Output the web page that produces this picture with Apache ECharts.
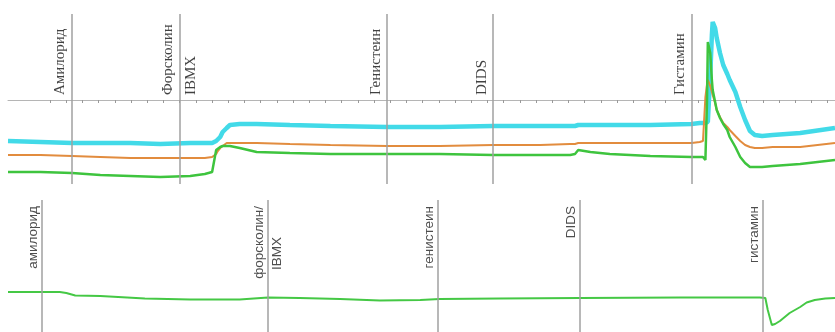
<!DOCTYPE html>
<html><head><meta charset="utf-8">
<script src="https://cdn.jsdelivr.net/npm/echarts@6/dist/echarts.min.js"></script>
<style>html,body{margin:0;padding:0;background:#fff;}#c{width:835px;height:332px;}</style>
</head><body><div id="c"></div>
<script>
// ---- data (time in s, signal in arbitrary units) ----
const timeTop = [0,40,79,114,151,188,225,243,252,254,257,259,262,265,270,274,286,307,348,398,468,533,599,657,694,700,704,719,743,793,844,854,858,861,863,864,867,869,870,873,875,879,883,888,891,898,904,910,916,922,931,944,978,1021];
const cyan   = [-41,-42,-43,-43,-43,-44,-43,-43,-43,-42,-41,-39,-37,-32,-28,-25,-24,-24,-25,-26,-27,-27,-26,-26,-26,-26,-25,-25,-25,-25,-24,-23,-23,-23,-23,-22,25,65,78,72,62,47,35,26,20,8,-7,-20,-31,-35,-36,-35,-33,-28];
const orange = [-55,-55,-56,-57,-58,-58,-58,-58,-57,-56,-54,-51,-48,-46,-43,-43,-43,-43,-44,-45,-46,-46,-45,-45,-44,-44,-43,-43,-43,-43,-43,-42,-41,3,16,20,14,8,5,-3,-10,-17,-23,-27,-30,-36,-41,-45,-47,-48,-48,-47,-47,-43];
const green  = [-72,-72,-73,-75,-76,-77,-76,-74,-72,-72,-50,-48,-47,-46,-46,-46,-48,-52,-53,-54,-54,-54,-55,-55,-55,-54,-50,-52,-54,-56,-57,-57,-57,-60,0,58,47,20,10,-2,-10,-18,-24,-30,-37,-47,-57,-63,-67,-67,-67,-66,-64,-60];

const timeBottom = [0,40,64,72,83,114,169,225,286,321,360,410,459,509,533,607,706,830,928,935,938,943,947,953,965,978,986,996,1009,1021];
const bottomTrace = [0,0,0,-1,-3.5,-4,-6.5,-7.5,-7.5,-5.5,-6,-7,-8.5,-8,-7,-6.5,-6,-5.5,-5.5,-6,-18,-33,-32,-29,-21,-15,-10.5,-8,-6.5,-6];

const eventsTop = [79, 212, 468, 599, 844];
const labelsTopLeft = ['Амилорид', 'Форсколин', 'Генистеин', 'DIDS', 'Гистамин'];
const labelsTopRight = ['', 'IBMX', '', '', ''];

const eventsBottom = [42, 321, 531, 706, 932];
const labelsBottomLeft = ['амилорид', 'форсколин/', 'генистеин', 'DIDS', 'гистамин'];
const labelsBottomRight = ['', 'IBMX', '', '', ''];

const tickValues = [];
for (let v = 52; v <= 1021; v += 20) tickValues.push(v);

const X_MAX = 1021;
// ---- chart ----
const chart = echarts.init(document.getElementById('c'), null, {renderer: 'canvas'});
const pairs = (ts, vs) => ts.map((t, i) => [t, vs[i]]);
const vline = {color: '#a0a0a0', width: 1.5, type: 'solid'};

function labelSeries(xi, yi, events, names, yv, side, font) {
  const data = [];
  events.forEach((t, i) => { if (names[i]) data.push({value: [t, yv], name: names[i]}); });
  const left = side === 'left';
  return {
    type: 'scatter', xAxisIndex: xi, yAxisIndex: yi, symbolSize: 0, silent: true,
    itemStyle: {color: 'rgba(0,0,0,0)'}, z: 5, data: data,
    label: Object.assign({
      show: true, position: 'inside', rotate: 90, formatter: p => p.name,
      verticalAlign: left ? 'bottom' : 'top',
      padding: left ? [0, 0, font.gap, 0] : [font.gap, 0, 0, 0]
    }, font.style, {align: font.align[side]})
  };
}

const topFont = {gap: 4, align: {left: 'left', right: 'left'},
  style: {fontFamily: '"Liberation Serif", "DejaVu Serif", serif', fontSize: 15, color: '#111'}};
const botFont = {gap: 2, align: {left: 'right', right: 'left'},
  style: {fontFamily: '"Liberation Sans", Arial, sans-serif', fontSize: 13.5, color: '#222'}};

chart.setOption({
  animation: false,
  grid: [
    {left: 8, right: 0, top: 14, height: 170},
    {left: 8, right: 0, top: 200, height: 132}
  ],
  xAxis: [
    {type: 'value', gridIndex: 0, min: 0, max: X_MAX,
      axisLine: {show: true, onZero: true, lineStyle: {color: '#b5b5b5', width: 1}},
      axisTick: {show: true, length: 3, customValues: tickValues, lineStyle: {color: '#999'}},
      axisLabel: {show: false}, splitLine: {show: false}},
    {type: 'value', gridIndex: 1, min: 0, max: X_MAX, show: false, splitLine: {show: false}}
  ],
  yAxis: [
    {type: 'value', gridIndex: 0, min: -84, max: 86, show: false, splitLine: {show: false}},
    {type: 'value', gridIndex: 1, min: -40, max: 92, show: false, splitLine: {show: false}}
  ],
  series: [
    {type: 'line', name: 'cyan', xAxisIndex: 0, yAxisIndex: 0, data: pairs(timeTop, cyan),
      showSymbol: false, lineStyle: {color: '#42dae8', width: 4.5}, z: 3,
      markLine: {silent: true, symbol: 'none', label: {show: false}, lineStyle: vline,
        data: eventsTop.map(t => ({xAxis: t}))}},
    {type: 'line', name: 'orange', xAxisIndex: 0, yAxisIndex: 0, data: pairs(timeTop, orange),
      showSymbol: false, lineStyle: {color: '#e28c3e', width: 2}, z: 3},
    {type: 'line', name: 'green', xAxisIndex: 0, yAxisIndex: 0, data: pairs(timeTop, green),
      showSymbol: false, lineStyle: {color: '#3ec43e', width: 2.5}, z: 3},
    {type: 'line', name: 'bottom', xAxisIndex: 1, yAxisIndex: 1, data: pairs(timeBottom, bottomTrace),
      showSymbol: false, lineStyle: {color: '#45c845', width: 2}, z: 3,
      markLine: {silent: true, symbol: 'none', label: {show: false}, lineStyle: vline,
        data: eventsBottom.map(t => ({xAxis: t}))}},
    labelSeries(0, 0, eventsTop, labelsTopLeft, 5, 'left', topFont),
    labelSeries(0, 0, eventsTop, labelsTopRight, 5, 'right', topFont),
    labelSeries(1, 1, eventsBottom, labelsBottomLeft, 86, 'left', botFont),
    labelSeries(1, 1, eventsBottom, labelsBottomRight, 22, 'right', botFont)
  ]
});
</script>
</body></html>
